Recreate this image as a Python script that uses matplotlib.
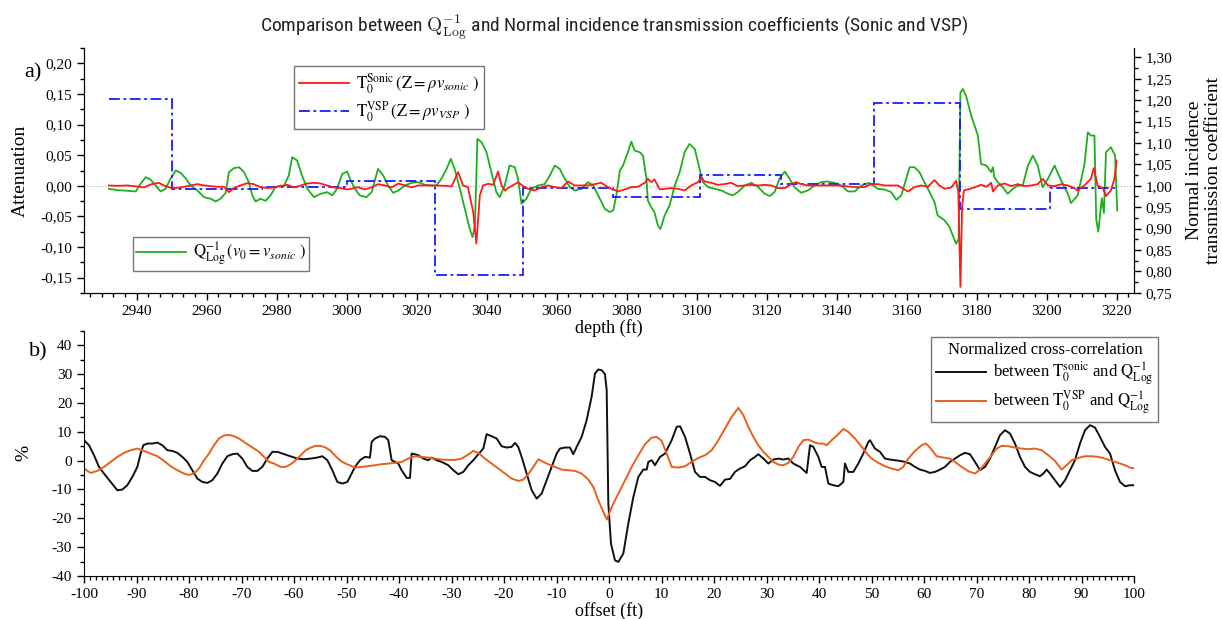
import numpy as np
import matplotlib
matplotlib.use("Agg")
from matplotlib import pyplot as plt
from matplotlib.ticker import MultipleLocator, FuncFormatter

plt.rcParams['font.family'] = ['Liberation Serif', 'DejaVu Serif']
plt.rcParams['mathtext.fontset'] = 'stix'
plt.rcParams['axes.unicode_minus'] = False

# ---- a) depth logs ----
sonic_depth = [2932.1, 2934.5, 2937.4, 2940.2, 2942.1, 2944.0, 2946.4, 2947.8, 2949.7, 2951.7, 2953.6, 2955.5,
               2957.4, 2959.3, 2961.2, 2963.1, 2965.0, 2966.4, 2967.8, 2969.7, 2971.6, 2973.5, 2975.4, 2977.4,
               2979.3, 2981.2, 2983.1, 2985.0, 2986.9, 2988.8, 2990.7, 2992.6, 2994.5, 2996.4, 2998.3, 3000.2,
               3001.4, 3003.3, 3005.2, 3007.1, 3009.0, 3011.0, 3012.9, 3014.8, 3016.7, 3018.6, 3020.5, 3022.9,
               3025.2, 3028.1, 3030.0, 3031.9, 3033.3, 3034.7, 3036.2, 3037.1, 3038.1, 3039.0, 3040.5, 3041.9,
               3043.3, 3044.3, 3045.2, 3046.6, 3048.1, 3049.0, 3050.5, 3051.9, 3053.8, 3055.7, 3057.6, 3059.5,
               3061.4, 3063.3, 3065.2, 3067.1, 3069.0, 3070.9, 3072.8, 3074.7, 3075.7, 3077.6, 3079.5, 3081.4,
               3083.3, 3085.2, 3086.1, 3087.1, 3088.0, 3089.5, 3090.9, 3092.8, 3094.7, 3096.6, 3098.5, 3100.4,
               3101.4, 3102.3, 3104.2, 3106.1, 3108.0, 3109.9, 3111.8, 3113.7, 3115.7, 3117.6, 3119.5, 3121.4,
               3123.3, 3125.2, 3127.1, 3128.5, 3129.9, 3131.8, 3134.7, 3140.4, 3145.2, 3148.0, 3149.9, 3151.8,
               3153.7, 3157.5, 3160.4, 3162.3, 3164.2, 3166.1, 3168.0, 3169.4, 3170.9, 3172.8, 3174.2, 3174.8,
               3175.4, 3175.9, 3176.4, 3177.5, 3179.4, 3181.3, 3182.8, 3184.2, 3184.7, 3186.1, 3188.0, 3189.9,
               3191.8, 3193.7, 3195.6, 3197.5, 3198.9, 3200.4, 3202.3, 3204.2, 3206.1, 3208.0, 3208.9, 3210.8,
               3212.7, 3213.5, 3214.6, 3216.1, 3217.0, 3218.4, 3219.4, 3220.0]
sonic_t0 = [1.0008, 1.0000, 1.0008, 0.9984, 0.9961, 1.0031, 1.0070, 1.0008, 0.9953, 0.9953, 0.9977, 1.0008,
            1.0039, 1.0008, 0.9992, 0.9977, 0.9977, 0.9852, 0.9946, 1.0008, 1.0062, 1.0039, 0.9969, 0.9946,
            0.9961, 0.9992, 1.0023, 0.9961, 1.0008, 1.0054, 1.0070, 1.0054, 1.0008, 0.9961, 0.9946, 0.9915,
            0.9930, 0.9969, 0.9915, 0.9961, 1.0039, 1.0008, 0.9961, 1.0054, 1.0008, 0.9961, 1.0008, 1.0008,
            1.0008, 1.0000, 0.9984, 1.0319, 1.0008, 0.9969, 0.9386, 0.8648, 0.9775, 1.0008, 1.0047, 1.0023,
            1.0334, 1.0008, 0.9891, 0.9969, 1.0039, 1.0085, 0.9992, 0.9930, 0.9891, 0.9969, 1.0008, 0.9969,
            0.9946, 1.0101, 1.0008, 1.0008, 1.0008, 1.0039, 1.0070, 0.9969, 0.9930, 0.9868, 0.9915, 0.9969,
            0.9977, 1.0070, 1.0163, 1.0085, 1.0148, 0.9915, 0.9930, 0.9946, 0.9930, 0.9891, 1.0008, 1.0085,
            1.0202, 1.0101, 1.0070, 1.0023, 1.0039, 1.0070, 0.9992, 1.0008, 1.0023, 1.0008, 1.0023, 1.0008,
            0.9946, 0.9946, 1.0039, 1.0085, 1.0039, 1.0008, 1.0008, 1.0008, 0.9969, 0.9969, 1.0039, 1.0039,
            1.0008, 1.0008, 0.9868, 0.9969, 1.0008, 0.9977, 1.0132, 1.0008, 0.9930, 0.9961, 1.0117, 0.9852,
            0.7638, 0.9542, 0.9891, 0.9915, 0.9961, 1.0023, 0.9977, 1.0070, 0.9868, 1.0008, 1.0054, 0.9992,
            1.0039, 0.9992, 1.0008, 1.0039, 1.0163, 1.0008, 0.9992, 1.0039, 1.0008, 0.9946, 0.9891, 1.0008,
            1.0163, 1.0412, 1.0008, 0.9946, 0.9759, 0.9891, 1.0163, 1.0591]

vsp_edges = [2932, 2950.2, 2975.9, 3000.2, 3025.2, 3050.3, 3076.1, 3101.1, 3124.2, 3150.7, 3175.3, 3201.0, 3220.1]
vsp_t0 = [1.203, 0.9915, 0.997, 1.011, 0.7925, 0.996, 0.9736, 1.0256, 1.004, 1.193, 0.946, 0.996]

qlog_depth = [2932.1, 2934.5, 2937.4, 2939.8, 2940.7, 2942.6, 2944.0, 2945.5, 2946.9, 2948.3, 2949.7, 2951.2,
              2952.6, 2954.0, 2955.5, 2957.4, 2959.3, 2961.2, 2962.6, 2964.0, 2965.5, 2966.4, 2967.8, 2969.3,
              2970.7, 2972.1, 2973.1, 2974.0, 2975.4, 2976.9, 2978.3, 2979.7, 2981.2, 2982.1, 2983.5, 2984.5,
              2985.9, 2987.3, 2988.8, 2990.7, 2992.6, 2994.5, 2995.9, 2997.3, 2998.8, 3000.2, 3001.0, 3002.4,
              3003.8, 3005.7, 3007.2, 3009.0, 3010.5, 3011.9, 3013.3, 3014.8, 3016.7, 3018.6, 3020.5, 3022.4,
              3024.3, 3025.7, 3027.1, 3028.6, 3029.8, 3030.9, 3032.4, 3033.8, 3035.2, 3036.0, 3036.7, 3037.4,
              3038.6, 3040.0, 3041.4, 3042.8, 3043.8, 3045.2, 3046.6, 3048.1, 3049.0, 3050.0, 3051.4, 3052.8,
              3054.7, 3056.6, 3058.1, 3059.5, 3060.9, 3062.4, 3063.8, 3065.2, 3067.1, 3069.0, 3070.5, 3071.9,
              3073.8, 3075.2, 3076.2, 3077.1, 3078.1, 3079.0, 3080.4, 3081.4, 3082.3, 3083.8, 3084.7, 3085.7,
              3086.1, 3087.1, 3088.0, 3089.0, 3089.7, 3090.9, 3092.3, 3093.8, 3095.2, 3096.6, 3098.0, 3099.5,
              3100.9, 3101.8, 3103.3, 3105.2, 3107.1, 3109.0, 3110.4, 3111.8, 3113.8, 3115.7, 3117.6, 3119.5,
              3120.9, 3122.3, 3123.7, 3125.2, 3126.6, 3128.0, 3129.9, 3131.8, 3133.7, 3135.6, 3137.5, 3139.4,
              3141.3, 3143.3, 3145.2, 3147.1, 3149.4, 3151.8, 3153.7, 3155.6, 3157.1, 3158.5, 3159.9, 3160.9,
              3162.3, 3163.7, 3165.1, 3166.6, 3168.0, 3168.9, 3170.9, 3172.3, 3173.2, 3174.2, 3174.9, 3175.4,
              3176.1, 3177.0, 3178.5, 3180.4, 3181.3, 3182.8, 3184.2, 3184.7, 3185.1, 3186.1, 3187.5, 3188.9,
              3190.4, 3191.8, 3193.2, 3194.7, 3196.1, 3197.5, 3198.9, 3200.4, 3202.3, 3204.2, 3206.1, 3207.0,
              3208.9, 3210.8, 3211.8, 3212.7, 3213.7, 3214.2, 3214.8, 3215.8, 3216.4, 3217.0, 3218.4, 3219.6,
              3220.2]
qlog = [-0.0049, -0.0071, -0.0081, -0.0092, -0.0005, 0.0141, 0.0103, 0.0005, -0.0092, -0.0049, 0.0114, 0.0250,
        0.0212, 0.0125, 0.0005, -0.0076, -0.0185, -0.0212, -0.0255, -0.0212, -0.0114, 0.0223, 0.0288, 0.0304,
        0.0223, 0.0060, -0.0157, -0.0255, -0.0212, -0.0244, -0.0157, -0.0022, 0.0005, -0.0005, 0.0168, 0.0467,
        0.0413, 0.0168, -0.0049, -0.0185, -0.0130, -0.0103, -0.0157, -0.0049, 0.0195, 0.0233, 0.0114, -0.0049,
        -0.0157, -0.0185, -0.0103, 0.0277, 0.0168, 0.0005, -0.0114, -0.0076, 0.0005, 0.0049, 0.0060, 0.0016,
        0.0005, 0.0005, 0.0114, 0.0277, 0.0440, 0.0277, -0.0049, -0.0375, -0.0700, -0.0836, -0.0646, 0.0766,
        0.0711, 0.0548, 0.0223, -0.0103, -0.0185, 0.0005, 0.0331, 0.0304, 0.0114, -0.0293, -0.0212, -0.0049,
        0.0005, 0.0027, 0.0168, 0.0331, 0.0277, 0.0114, -0.0022, -0.0076, -0.0049, 0.0060, 0.0005, -0.0157,
        -0.0375, -0.0429, -0.0402, -0.0157, 0.0250, 0.0331, 0.0548, 0.0722, 0.0576, 0.0548, 0.0494, 0.0114,
        -0.0239, -0.0353, -0.0434, -0.0652, -0.0706, -0.0483, -0.0320, 0.0005, 0.0223, 0.0548, 0.0684, 0.0603,
        0.0277, 0.0060, -0.0022, -0.0049, -0.0076, -0.0130, -0.0157, -0.0103, 0.0005, 0.0049, -0.0022, -0.0130,
        -0.0168, -0.0103, 0.0114, 0.0233, 0.0114, -0.0022, -0.0114, -0.0076, 0.0005, 0.0060, 0.0071, 0.0049,
        0.0005, -0.0092, -0.0092, 0.0005, 0.0049, -0.0049, -0.0060, -0.0103, -0.0228, -0.0157, 0.0114, 0.0304,
        0.0304, 0.0223, 0.0060, -0.0103, -0.0266, -0.0483, -0.0565, -0.0673, -0.0809, -0.0945, -0.0863, 0.1526,
        0.1580, 0.1472, 0.1146, 0.0820, 0.0358, 0.0331, 0.0223, 0.0304, 0.0141, 0.0060, -0.0022, -0.0130,
        -0.0049, 0.0005, 0.0005, 0.0331, 0.0494, 0.0331, -0.0022, 0.0114, 0.0331, 0.0087, -0.0130, -0.0282,
        -0.0157, 0.0331, 0.0874, 0.0820, 0.0820, -0.0543, -0.0749, -0.0201, -0.0445, 0.0548, 0.0630, 0.0494,
        -0.0402]

# ---- b) normalized cross-correlation ----
cc_sonic_offset = [-100.0, -99.05, -98.10, -97.14, -96.19, -94.92, -93.65, -92.70, -91.75, -90.79, -89.84, -89.21,
                   -88.70, -87.94, -86.98, -86.03, -85.08, -84.13, -83.17, -82.22, -81.27, -80.32, -79.37, -78.41,
                   -77.46, -76.51, -75.56, -74.60, -73.65, -72.70, -71.75, -70.79, -69.84, -68.89, -67.94, -66.98,
                   -66.03, -65.08, -64.13, -63.17, -62.22, -61.27, -60.32, -59.37, -58.10, -56.83, -55.56, -54.60,
                   -53.65, -52.70, -51.75, -50.79, -49.84, -49.34, -48.39, -47.43, -46.48, -45.53, -45.21, -44.58,
                   -43.62, -42.67, -42.04, -41.40, -40.77, -40.13, -39.50, -38.54, -37.91, -37.59, -36.96, -36.32,
                   -35.37, -34.42, -33.78, -32.83, -31.88, -30.61, -29.65, -28.70, -27.75, -26.80, -25.85, -24.89,
                   -23.94, -23.31, -22.35, -21.40, -20.45, -19.50, -18.54, -17.91, -17.29, -16.64, -15.69, -14.73,
                   -13.78, -12.83, -11.88, -10.92, -9.97, -9.34, -8.38, -7.43, -6.80, -6.16, -5.21, -4.26,
                   -3.31, -2.67, -2.04, -1.40, -0.77, -0.44, -0.13, 0.38, 1.14, 1.78, 2.73, 3.68,
                   4.64, 5.59, 6.54, 7.18, 7.49, 8.13, 8.76, 9.72, 10.67, 11.94, 12.89, 13.53,
                   14.48, 15.43, 16.38, 17.33, 18.29, 19.24, 20.19, 21.14, 22.10, 23.05, 24.00, 24.95,
                   25.91, 26.86, 27.81, 28.45, 29.40, 30.35, 31.30, 32.26, 33.21, 34.16, 35.11, 36.38,
                   37.65, 38.29, 38.92, 39.87, 40.51, 41.14, 41.78, 42.73, 43.68, 44.64, 44.95, 45.59,
                   46.54, 47.49, 48.44, 49.40, 49.71, 50.66, 51.62, 52.57, 53.52, 54.47, 55.43, 56.38,
                   57.33, 58.28, 59.24, 60.19, 61.14, 62.09, 63.05, 64.00, 64.95, 65.90, 66.86, 67.81,
                   68.76, 69.71, 70.67, 71.62, 72.57, 73.52, 74.47, 75.43, 76.38, 77.33, 78.28, 79.24,
                   80.19, 81.14, 82.09, 82.73, 83.36, 84.00, 84.95, 85.90, 86.86, 87.81, 88.76, 89.71,
                   90.67, 91.62, 92.57, 93.52, 94.47, 95.43, 96.38, 97.33, 98.29, 99.24, 100.0]
cc_sonic = [7.05, 5.32, 1.85, -2.20, -4.51, -7.40, -10.29, -10.06, -8.55, -5.66, -2.20, 2.43,
            5.32, 5.89, 5.89, 6.24, 5.32, 3.58, 3.35, 2.66, 1.27, -0.46, -3.35, -6.24,
            -7.40, -7.74, -6.82, -4.51, -1.04, 1.50, 2.20, 2.43, 0.69, -2.20, -3.58, -3.58,
            -2.20, 0.69, 3.01, 3.01, 2.43, 1.85, 1.27, 0.69, 0.46, 0.69, 1.04, 1.50,
            0.12, -3.35, -7.40, -7.97, -7.40, -5.66, -2.20, 0.12, 1.27, 1.04, 6.47, 7.63,
            8.44, 8.21, 7.05, 0.12, -0.46, -1.04, -3.35, -6.01, -6.01, 2.43, 2.20, 1.85,
            0.69, 0.12, 1.04, 0.12, -0.46, -1.62, -3.35, -4.74, -3.93, -1.62, 0.12, 2.20,
            4.16, 9.13, 8.44, 7.63, 4.97, 4.51, 4.74, 6.13, 4.74, 1.27, -4.51, -10.29,
            -13.18, -11.44, -6.82, -2.20, 2.43, 4.16, 4.51, 4.51, 2.20, 4.74, 8.21, 13.98,
            22.08, 30.17, 31.55, 31.32, 29.94, 24.4, -14.9, -28.8, -34.6, -35.1, -32.2, -21.8,
            -12.6, -5.66, -3.12, -3.12, -0.46, 0.12, -1.62, 1.27, 2.43, 7.05, 11.67, 11.90,
            8.21, 2.43, -3.93, -5.66, -5.66, -6.82, -7.40, -8.78, -6.59, -6.36, -3.93, -2.77,
            -1.96, 0.12, 1.27, 2.20, 0.69, -1.04, 0.35, 0.69, 0.35, 0.69, -1.04, -2.20,
            -4.28, 5.32, 4.74, 1.27, -2.20, -2.20, -7.97, -8.55, -8.90, -7.40, -1.04, -3.93,
            -3.93, -1.04, 2.43, 6.47, 7.05, 4.16, 3.01, 0.69, 0.35, 0.12, -0.12, -0.46,
            -1.04, -2.20, -3.12, -3.58, -4.28, -3.93, -3.12, -2.20, -0.46, 0.69, 1.85, 2.66,
            2.20, -0.46, -3.35, -2.20, 0.69, 4.74, 8.78, 10.52, 9.36, 5.89, 1.27, -2.20,
            -3.93, -4.74, -5.43, -4.51, -3.12, -4.51, -6.82, -9.13, -6.82, -3.35, 0.12, 5.89,
            10.52, 12.25, 11.44, 8.21, 4.74, 2.43, -3.35, -7.40, -8.90, -8.55, -8.55]

cc_vsp_offset = [-100.0, -98.73, -97.46, -96.19, -94.92, -93.65, -92.38, -91.11, -89.84, -88.57, -87.30, -86.03,
                 -84.76, -83.49, -82.22, -80.95, -80.00, -79.05, -78.10, -77.14, -76.19, -75.24, -74.29, -73.33,
                 -72.38, -71.43, -70.48, -69.52, -68.57, -67.62, -66.67, -65.71, -64.76, -63.81, -62.54, -61.59,
                 -60.63, -59.68, -58.73, -57.78, -56.83, -55.87, -54.92, -53.97, -53.02, -52.06, -51.11, -50.16,
                 -48.39, -47.12, -45.85, -44.58, -43.31, -42.04, -40.77, -39.50, -38.23, -36.96, -35.69, -34.42,
                 -33.15, -31.88, -30.61, -29.34, -28.07, -26.80, -25.85, -24.89, -23.62, -22.35, -21.08, -19.81,
                 -18.54, -17.27, -16.32, -15.37, -14.42, -13.46, -12.51, -11.56, -10.29, -9.02, -7.75, -6.48,
                 -5.21, -3.94, -2.99, -2.04, -1.08, -0.40, 0.51, 1.78, 3.05, 4.32, 5.59, 6.86,
                 8.13, 9.08, 10.03, 10.99, 11.94, 13.21, 14.48, 15.75, 17.02, 18.29, 19.56, 20.83,
                 22.10, 23.37, 24.64, 25.59, 26.54, 27.49, 28.45, 29.40, 30.35, 31.30, 32.26, 33.21,
                 34.16, 35.11, 36.06, 37.02, 37.97, 38.92, 39.87, 40.83, 41.46, 42.41, 43.68, 44.64,
                 45.59, 46.86, 48.13, 49.40, 50.03, 51.30, 52.57, 53.84, 55.11, 56.06, 57.01, 58.28,
                 59.56, 60.38, 61.14, 62.41, 63.68, 64.95, 65.90, 67.17, 68.44, 69.71, 70.67, 71.62,
                 72.89, 73.84, 74.79, 76.06, 77.33, 78.60, 79.87, 81.14, 82.41, 83.68, 84.95, 86.22,
                 87.17, 88.13, 89.40, 90.67, 91.94, 93.21, 94.48, 95.75, 97.02, 98.29, 99.24, 100.0]
cc_vsp = [-2.77, -4.28, -3.58, -2.20, -0.46, 1.27, 2.66, 3.58, 4.16, 3.35, 2.43, 1.50,
          -0.12, -1.96, -3.35, -4.51, -4.97, -4.51, -2.77, 0.12, 2.43, 5.32, 7.63, 8.67,
          8.90, 8.44, 7.63, 6.47, 5.32, 4.16, 3.01, 1.27, -0.46, -1.04, -2.20, -2.20,
          -1.27, 0.12, 1.85, 3.58, 4.51, 5.09, 5.09, 4.51, 3.35, 1.50, -0.12, -1.04,
          -2.43, -2.20, -1.96, -1.62, -1.27, -1.04, -0.81, -0.46, 0.69, 1.50, 1.27, 1.04,
          0.69, 0.35, 0.23, 0.23, 0.69, 2.08, 3.35, 2.66, 0.69, -1.04, -2.77, -4.51,
          -6.24, -7.05, -6.59, -4.74, -2.20, 0.46, -0.46, -1.27, -2.20, -3.12, -3.35, -3.58,
          -4.51, -6.59, -9.13, -13.75, -17.80, -20.46, -16.07, -11.44, -6.82, -2.20, 1.85, 5.66,
          7.97, 8.21, 6.82, 2.43, -2.20, -2.43, -1.96, -0.46, 0.92, 1.85, 3.58, 7.05,
          11.10, 15.14, 18.26, 15.72, 11.67, 8.21, 5.32, 3.01, 1.27, -0.46, -1.39, -1.62,
          -0.81, 1.27, 4.74, 7.05, 7.28, 6.47, 5.89, 5.89, 5.32, 7.05, 9.13, 10.98,
          9.94, 7.63, 4.74, 1.85, 0.69, -0.81, -1.96, -2.77, -3.35, -2.20, 0.69, 3.35,
          5.32, 5.89, 4.51, 1.50, 1.04, 0.69, -0.46, -2.20, -3.70, -4.51, -3.12, -1.04,
          1.85, 4.16, 5.09, 4.97, 4.51, 4.16, 3.93, 4.16, 3.58, 1.85, -0.12, -3.12,
          -1.62, 0.12, 0.92, 1.50, 1.50, 1.27, 0.69, -0.12, -0.81, -1.62, -2.43, -2.70]


def comma(v, pos):
    return '{:.2f}'.format(v).replace('.', ',')


fig = plt.figure(figsize=(12.22, 6.19), dpi=100)
W, H = 1222.0, 619.0

# top panel: attenuation (left) and transmission coefficients (right)
ax = fig.add_axes([84 / W, 1 - 293 / H, 1050 / W, 245 / H])
ax2 = ax.twinx()

ax.axhline(0, color='#b0b0b0', lw=0.8, ls=':', zorder=0)
lq, = ax.plot(qlog_depth, qlog, color='#1cb01c', lw=1.3)
ls_, = ax2.plot(sonic_depth, sonic_t0, color='#ff1a1a', lw=1.3)
lv = ax2.stairs(vsp_t0, vsp_edges, baseline=None, color='#1a1aff', lw=1.3, linestyle=(0, (6, 2, 1.5, 2)))

for a in (ax, ax2):
    a.spines['top'].set_visible(False)
    a.tick_params(direction='out', labelsize=11, length=5, width=1)
    a.tick_params(which='minor', direction='out', length=3, width=1)
ax.xaxis.set_major_locator(MultipleLocator(20))
ax.xaxis.set_minor_locator(MultipleLocator(20 / 6))
ax.yaxis.set_major_locator(MultipleLocator(0.05))
ax.yaxis.set_minor_locator(MultipleLocator(0.025))
ax2.yaxis.set_major_locator(MultipleLocator(0.05))
ax2.yaxis.set_minor_locator(MultipleLocator(0.025))
ax.yaxis.set_major_formatter(FuncFormatter(comma))
ax2.yaxis.set_major_formatter(FuncFormatter(comma))
ax.set_xlim(2925, 3225)
ax.set_ylim(-0.175, 0.225)
ax2.set_ylim(0.7495, 1.322)

ax.set_xlabel('depth (ft)', fontsize=13, labelpad=1)
ax.set_ylabel('Attenuation', fontsize=14, labelpad=8)
ax2.set_ylabel('Normal incidence\ntransmission coefficient', fontsize=14, labelpad=10,
               linespacing=1.1)

leg1 = ax.legend([ls_, lv],
                 [r'$\mathrm{T}_0^{\mathrm{Sonic}}\,(\mathrm{Z} = \rho v_{sonic}\ )$',
                  r'$\mathrm{T}_0^{\mathrm{VSP}}\,(\mathrm{Z} = \rho v_{VSP}\ )$'],
                 loc='upper left', bbox_to_anchor=(0.2, 0.9265), borderaxespad=0,
                 fontsize=12, fancybox=False, edgecolor='#777777', framealpha=1,
                 handlelength=3.0, handletextpad=0.4, borderpad=0.3, labelspacing=0.2)
ax.add_artist(leg1)
ax.legend([lq], [r'$\mathrm{Q}^{-1}_{\mathrm{Log}}\,(v_0 = v_{sonic}\ )$'],
          loc='upper left', bbox_to_anchor=(0.0467, 0.2286), borderaxespad=0,
          fontsize=12, fancybox=False, edgecolor='#777777', framealpha=1,
          handlelength=3.0, handletextpad=0.4, borderpad=0.2)

# bottom panel
bx = fig.add_axes([84 / W, 1 - 576 / H, 1050 / W, 245.3 / H])
bx.patch.set_alpha(0)
bx.plot(cc_sonic_offset, cc_sonic, color='#111111', lw=1.4,
        label=r'between $\mathrm{T}_0^{\mathrm{sonic}}$ and $\mathrm{Q}^{-1}_{\mathrm{Log}}$')
bx.plot(cc_vsp_offset, cc_vsp, color='#e8601c', lw=1.4,
        label=r'between $\mathrm{T}_0^{\mathrm{VSP}}$ and $\mathrm{Q}^{-1}_{\mathrm{Log}}$')
bx.set_xlim(-100, 100)
bx.set_ylim(-40, 45)
bx.spines['top'].set_visible(False)
bx.spines['right'].set_visible(False)
bx.tick_params(direction='out', labelsize=11, length=5, width=1)
bx.tick_params(which='minor', direction='out', length=3, width=1)
bx.xaxis.set_major_locator(MultipleLocator(10))
bx.xaxis.set_minor_locator(MultipleLocator(10 / 9))
bx.yaxis.set_major_locator(MultipleLocator(10))
bx.yaxis.set_minor_locator(MultipleLocator(5))
bx.set_xlabel('offset (ft)', fontsize=13, labelpad=1)
bx.set_ylabel('%', fontsize=14, labelpad=14)
bx.legend(title='Normalized cross-correlation', loc='upper left', bbox_to_anchor=(0.807, 0.974),
          borderaxespad=0, fontsize=12, title_fontsize=12, fancybox=False, edgecolor='#777777',
          framealpha=1, handlelength=3.0, handletextpad=0.4, borderpad=0.3, labelspacing=0.1)

fig.text(33 / W, 1 - 73 / H, 'a)', fontsize=16, ha='center', va='center')
fig.text(38 / W, 1 - 352 / H, 'b)', fontsize=16, ha='center', va='center')

fig.text(0.503, 1 - 27 / H,
         r'Comparison between $\mathrm{Q}_{\mathrm{Log}}^{-1}$ and Normal incidence transmission coefficients (Sonic and VSP)',
         family=['Roboto Condensed', 'Roboto', 'DejaVu Sans'], math_fontfamily='cm',
         fontsize=14, ha='center', va='center', color='#222222')

fig.savefig('out.png', dpi=100)
